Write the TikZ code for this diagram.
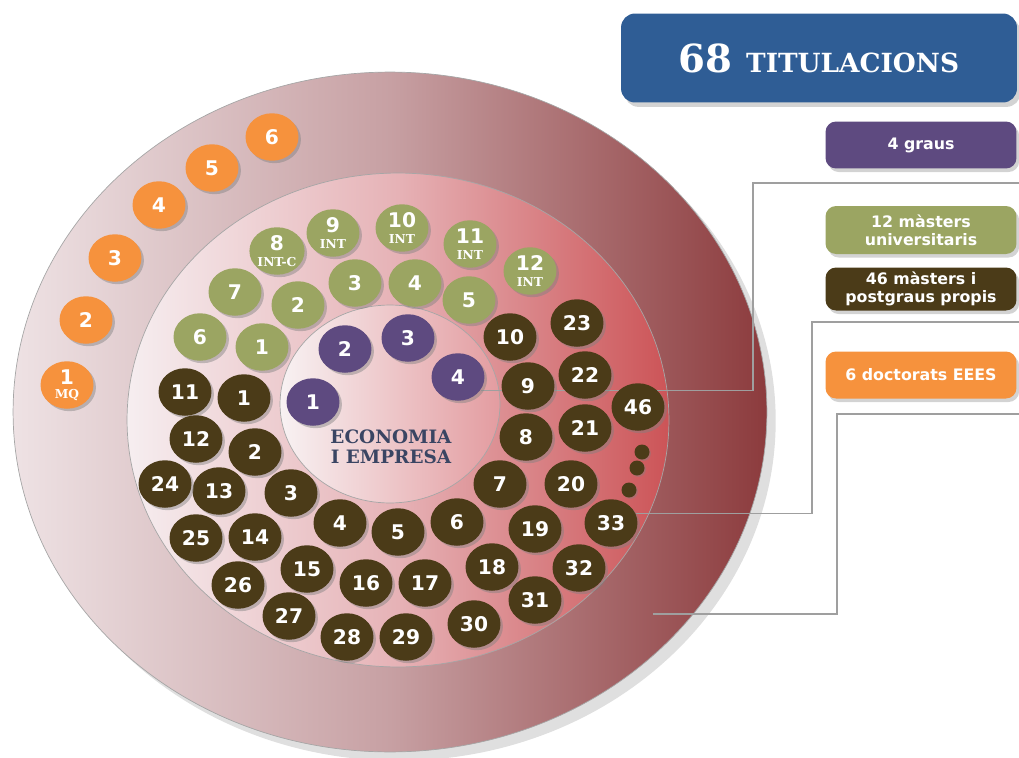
\documentclass[tikz,border=0pt]{standalone}
\usepackage{fontspec}
\usepackage{tikz}
\usetikzlibrary{shapes.geometric, shadows, backgrounds}

\newfontfamily\numfont{DejaVu Sans}
\newfontfamily\slabfont{DejaVu Serif}
\newcommand{\smalltag}[1]{{\slabfont\bfseries\fontsize{7}{7.5}\selectfont #1}}

\definecolor{orangeC}{HTML}{F6923D}
\definecolor{greenC}{HTML}{9BA562}
\definecolor{brownC}{HTML}{4B3B18}
\definecolor{purpleC}{HTML}{5E4A80}
\definecolor{blueC}{HTML}{2F5D95}
\definecolor{textC}{HTML}{3A4563}
\definecolor{ringL}{HTML}{EEE2E4}
\definecolor{ringM}{HTML}{C7A0A3}
\definecolor{ringR}{HTML}{8C3B3D}
\definecolor{midL}{HTML}{F6EEF0}
\definecolor{midM}{HTML}{E6B2B6}
\definecolor{midR}{HTML}{CC5457}
\definecolor{inL}{HTML}{F8F2F3}
\definecolor{inR}{HTML}{E39CA0}

\tikzset{
    ball/.style={ellipse, minimum width=1.06cm, minimum height=0.95cm, inner sep=0pt,
        align=center, text=white, font=\numfont\bfseries\fontsize{11.5}{12}\selectfont,
        drop shadow={shadow xshift=1.4pt, shadow yshift=-1.4pt, opacity=0.45}},
    orangeball/.style={ball, fill=orangeC},
    greenball/.style={ball, fill=greenC},
    brownball/.style={ball, fill=brownC},
    purpleball/.style={ball, fill=purpleC},
    dotball/.style={circle, minimum size=0.3cm, inner sep=0pt, fill=brownC,
        drop shadow={shadow xshift=0.8pt, shadow yshift=-0.8pt, opacity=0.4}},
    legend/.style={rounded corners=6pt, minimum width=3.82cm, inner sep=0pt, align=center,
        text=white, font=\numfont\bfseries\fontsize{9}{10}\selectfont,
        drop shadow={shadow xshift=1.5pt, shadow yshift=-2pt, opacity=0.35}},
    link/.style={draw=gray!75, line width=0.6pt},
}

\begin{document}
\begin{tikzpicture}[x=0.02cm, y=-0.02cm]
    \useasboundingbox (0,0) rectangle (1019,758);

    % rings
    \begin{scope}[on background layer]
        \path[draw=gray!70, left color=ringL, right color=ringR, middle color=ringM,
            drop shadow={shadow xshift=5pt, shadow yshift=-5pt, opacity=0.25}]
            (390,412) ellipse [x radius=7.54cm, y radius=6.8cm];
        \path[draw=gray!70, left color=midL, right color=midR, middle color=midM]
            (398,420) ellipse [x radius=5.42cm, y radius=4.94cm];
        \path[draw=gray!70, left color=inL, right color=inR]
            (390,404) ellipse [x radius=2.2cm, y radius=1.98cm];
    \end{scope}

    \node[text=textC, font=\slabfont\bfseries\fontsize{10.5}{11.5}\selectfont, align=center]
        (econ) at (391,447) {ECONOMIA\\I EMPRESA};

    % doctorats
    \node[orangeball] (o1) at (67,385) {1\\[-4pt]\smalltag{MQ}};
    \node[orangeball] (o2) at (86,320) {2};
    \node[orangeball] (o3) at (115,258) {3};
    \node[orangeball] (o4) at (159,205) {4};
    \node[orangeball] (o5) at (212,168) {5};
    \node[orangeball] (o6) at (272,137) {6};

    % masters universitaris
    \node[greenball] (g1) at (262,347) {1};
    \node[greenball] (g2) at (298,305) {2};
    \node[greenball] (g3) at (355,283) {3};
    \node[greenball] (g4) at (415,283) {4};
    \node[greenball] (g5) at (469,300) {5};
    \node[greenball] (g6) at (200,337) {6};
    \node[greenball] (g7) at (235,292) {7};
    \node[greenball] (g8) at (277,251) {8\\[-3pt]\smalltag{INT-C}};
    \node[greenball] (g9) at (333,233) {9\\[-3pt]\smalltag{INT}};
    \node[greenball] (g10) at (402,228) {10\\[-3pt]\smalltag{INT}};
    \node[greenball] (g11) at (470,244) {11\\[-3pt]\smalltag{INT}};
    \node[greenball] (g12) at (530,271) {12\\[-3pt]\smalltag{INT}};

    % graus
    \node[purpleball] (p1) at (313,402) {1};
    \node[purpleball] (p2) at (345,349) {2};
    \node[purpleball] (p3) at (408,338) {3};
    \node[purpleball] (p4) at (458,377) {4};

    % masters i postgraus propis
    \node[brownball] (b1) at (244,398) {1};
    \node[brownball] (b2) at (255,452) {2};
    \node[brownball] (b3) at (291,493) {3};
    \node[brownball] (b4) at (340,523) {4};
    \node[brownball] (b5) at (398,532) {5};
    \node[brownball] (b6) at (457,522) {6};
    \node[brownball] (b7) at (500,484) {7};
    \node[brownball] (b8) at (526,437) {8};
    \node[brownball] (b9) at (528,386) {9};
    \node[brownball] (b10) at (510,337) {10};
    \node[brownball] (b11) at (185,392) {11};
    \node[brownball] (b12) at (196,439) {12};
    \node[brownball] (b13) at (219,491) {13};
    \node[brownball] (b14) at (255,537) {14};
    \node[brownball] (b15) at (307,569) {15};
    \node[brownball] (b16) at (366,583) {16};
    \node[brownball] (b17) at (425,583) {17};
    \node[brownball] (b18) at (492,567) {18};
    \node[brownball] (b19) at (535,529) {19};
    \node[brownball] (b20) at (571,484) {20};
    \node[brownball] (b21) at (585,428) {21};
    \node[brownball] (b22) at (585,375) {22};
    \node[brownball] (b23) at (577,323) {23};
    \node[brownball] (b24) at (165,484) {24};
    \node[brownball] (b25) at (196,538) {25};
    \node[brownball] (b26) at (238,585) {26};
    \node[brownball] (b27) at (289,616) {27};
    \node[brownball] (b28) at (347,637) {28};
    \node[brownball] (b29) at (406,637) {29};
    \node[brownball] (b30) at (474,624) {30};
    \node[brownball] (b31) at (535,600) {31};
    \node[brownball] (b32) at (579,568) {32};
    \node[brownball] (b33) at (611,523) {33};
    \node[brownball] (b46) at (638,407) {46};
    \node[dotball] (d1) at (642,452) {};
    \node[dotball] (d2) at (637,468) {};
    \node[dotball] (d3) at (629,490) {};

    % boxes
    \node[rounded corners=8pt, fill=blueC, minimum width=7.92cm, minimum height=1.78cm,
        text=white, font=\slabfont\bfseries,
        drop shadow={shadow xshift=2pt, shadow yshift=-2.5pt, opacity=0.35}]
        (title) at (819,58) {\fontsize{22}{22}\selectfont 68 \fontsize{15}{15}\selectfont TITULACIONS};
    \node[legend, fill=purpleC, minimum height=0.94cm] (lgraus) at (921,145) {4 graus};
    \node[legend, fill=greenC, minimum height=0.96cm] (lmu) at (921,230) {12 màsters\\universitaris};
    \node[legend, fill=brownC, minimum height=0.86cm] (lmp) at (921,289) {46 màsters i\\postgraus propis};
    \node[legend, fill=orangeC, minimum height=0.94cm] (ldoc) at (921,375) {6 doctorats EEES};

    % connectors
    \coordinate (k1) at (753,183);
    \coordinate (e1) at (1019,183);
    \coordinate (k2) at (812,322);
    \coordinate (e2) at (1019,322);
    \coordinate (r3) at (653,614);
    \coordinate (k3) at (837,414);
    \coordinate (e3) at (1019,414);
    \begin{scope}[on background layer]
        \draw[link] (p4.-30) -| (k1) -- (e1);
        \draw[link] (b33.20) -| (k2) -- (e2);
        \draw[link] (r3) -| (k3) -- (e3);
    \end{scope}
\end{tikzpicture}
\end{document}
